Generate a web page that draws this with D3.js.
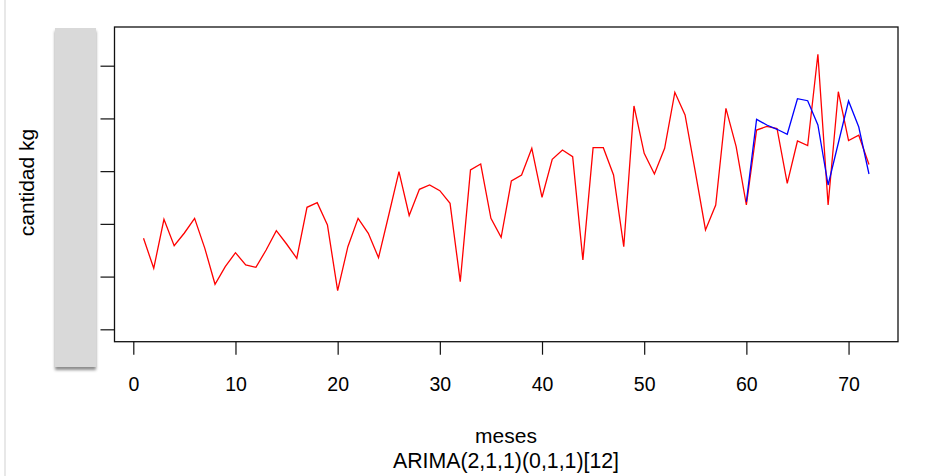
<!DOCTYPE html>
<html>
<head>
<meta charset="utf-8">
<script src="https://cdn.jsdelivr.net/npm/d3@7"></script>
<style>
  html, body { margin: 0; padding: 0; background: #ffffff; }
  svg { display: block; }
  text { font-family: "Liberation Sans", Arial, sans-serif; fill: #000; }
</style>
</head>
<body>
<svg id="chart" width="934" height="476"></svg>
<script>
// ---- data ----
const months = d3.range(1, 73);
const observed = [
  272.6, 215.7, 308.6, 258.6, 282.7, 310.5, 253.6, 185.4, 218.7, 245.3, 222.0, 217.6,
  250.4, 287.0, 261.8, 234.7, 331.4, 340.1, 297.8, 173.2, 256.7, 310.5, 282.1, 235.8,
  316.8, 398.9, 315.9, 365.6, 373.7, 362.9, 339.0, 190.3, 402.2, 413.5, 310.5, 274.5,
  381.3, 392.7, 443.3, 350.4, 422.5, 440.1, 427.4, 231.4, 444.5, 444.5, 392.7, 256.7,
  523.6, 433.8, 394.6, 443.3, 549.5, 506.5, 398.9, 288.4, 335.8, 519.2, 446.4, 335.8,
  478.0, 484.7, 480.9, 376.9, 457.2, 448.6, 621.8, 335.8, 550.7, 458.1, 468.0, 412.6
];
const forecastMonths = d3.range(60, 73);
const forecast = [342.0, 498.3, 487.5, 479.4, 469.9, 537.4, 533.6, 487.5, 373.7, 453.4, 533.0, 483.7, 394.6];
const xTicks = [0, 10, 20, 30, 40, 50, 60, 70];
const yTicks = [100, 200, 300, 400, 500, 600];
const xLabel = "meses";
const subLabel = "ARIMA(2,1,1)(0,1,1)[12]";
const yLabel = "cantidad kg";

// ---- layout ----
const svg = d3.select("#chart");
const box = { left: 114.5, top: 27, right: 898, bottom: 341.7 };

const x = d3.scaleLinear().domain([-1.84, 74.84]).range([box.left, box.right]);
const y = d3.scaleLinear().domain([76.5, 673.4]).range([box.bottom, box.top]);

// faint vertical line at far left
svg.append("rect").attr("x", 4).attr("y", 0).attr("width", 2).attr("height", 476).attr("fill", "#e8e8e8");

// lines
const line = d3.line().x(d => x(d[0])).y(d => y(d[1]));
svg.append("path")
  .datum(months.map((m, i) => [m, observed[i]]))
  .attr("d", line).attr("fill", "none").attr("stroke", "#ff0000").attr("stroke-width", 1.3);
svg.append("path")
  .datum(forecastMonths.map((m, i) => [m, forecast[i]]))
  .attr("d", line).attr("fill", "none").attr("stroke", "#0000ff").attr("stroke-width", 1.3);

// box
svg.append("rect")
  .attr("x", box.left).attr("y", box.top)
  .attr("width", box.right - box.left).attr("height", box.bottom - box.top)
  .attr("fill", "none").attr("stroke", "#111").attr("stroke-width", 1.3);

// x axis
const xAxis = svg.append("g").attr("transform", `translate(0,${box.bottom})`)
  .call(d3.axisBottom(x).tickValues(xTicks).tickSize(13).tickSizeOuter(0).tickPadding(22).tickFormat(d3.format("d")));
xAxis.select(".domain").remove();
xAxis.selectAll(".tick line").attr("stroke", "#111").attr("stroke-width", 1.2);
xAxis.selectAll(".tick text").attr("font-size", "19.5px").attr("font-family", "Liberation Sans, Arial, sans-serif").attr("fill", "#000");

// y axis (labels hidden under the grey block in the reference)
const yAxis = svg.append("g").attr("transform", `translate(${box.left},0)`)
  .call(d3.axisLeft(y).tickValues(yTicks).tickSize(14).tickSizeOuter(0).tickFormat(""));
yAxis.select(".domain").remove();
yAxis.selectAll(".tick line").attr("stroke", "#111").attr("stroke-width", 1.2);

// grey block with shadow
const defs = svg.append("defs");
const f = defs.append("filter").attr("id", "sh").attr("x", "-20%").attr("y", "-5%").attr("width", "140%").attr("height", "115%");
f.append("feDropShadow").attr("dx", 0).attr("dy", 3).attr("stdDeviation", 1.8).attr("flood-color", "#000").attr("flood-opacity", 0.45);
svg.append("rect").attr("x", 55).attr("y", 28).attr("width", 41).attr("height", 339)
  .attr("fill", "#d9d9d9").attr("filter", "url(#sh)");

// labels
svg.append("text").attr("x", 506).attr("y", 443).attr("text-anchor", "middle").attr("font-size", "21px").text(xLabel);
svg.append("text").attr("x", 506).attr("y", 468).attr("text-anchor", "middle").attr("font-size", "21.3px").text(subLabel);
svg.append("text").attr("transform", "translate(33.5,182.5) rotate(-90)").attr("text-anchor", "middle").attr("font-size", "21px").text(yLabel);
</script>
</body>
</html>
